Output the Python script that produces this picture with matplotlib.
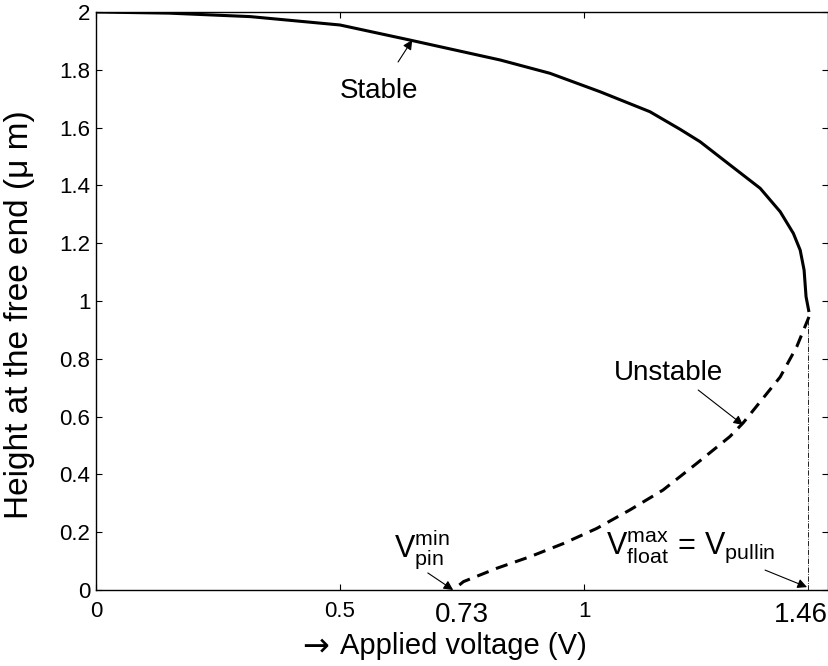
import numpy as np
import matplotlib.pyplot as plt

plt.rcParams['font.family'] = ['Liberation Sans', 'DejaVu Sans']
plt.rcParams['mathtext.fontset'] = 'custom'
plt.rcParams['mathtext.rm'] = 'Liberation Sans'
plt.rcParams['mathtext.it'] = 'Liberation Sans'

# values
stable_v = [0.000, 0.150, 0.316, 0.500, 0.643, 0.828, 0.930, 1.033, 1.135,
            1.197, 1.238, 1.299, 1.361, 1.402, 1.429, 1.443, 1.451, 1.455, 1.461]
stable_h = [2.000, 1.996, 1.984, 1.955, 1.903, 1.834, 1.788, 1.724, 1.655,
            1.594, 1.551, 1.471, 1.390, 1.309, 1.234, 1.176, 1.107, 1.015, 0.962]
unstable_v = [1.461, 1.436, 1.402, 1.326, 1.299, 1.231, 1.162, 1.094, 1.026,
              0.958, 0.889, 0.821, 0.753, 0.732]
unstable_h = [0.945, 0.842, 0.737, 0.578, 0.531, 0.438, 0.346, 0.277, 0.213,
              0.161, 0.115, 0.075, 0.029, 0.000]
v_pin = 0.73
v_pullin = 1.46
xticks = [0, 0.5, 1]
yticks = [0, 0.2, 0.4, 0.6, 0.8, 1, 1.2, 1.4, 1.6, 1.8, 2]

fig = plt.figure(figsize=(8.29, 6.66), dpi=100)
ax = fig.add_axes([0.1158, 0.1141, 0.8830, 0.8679])

ax.plot(stable_v, stable_h, 'k-', lw=2.2, solid_capstyle='butt')
ax.plot(unstable_v, unstable_h, 'k--', lw=2.2, dashes=(4, 2.6))
ax.plot([v_pullin, v_pullin], [0, unstable_h[0]], 'k-.', lw=0.6)

ax.set_xlim(0, 1.5)
ax.set_ylim(0, 2)
ax.set_xticks(xticks)
ax.set_xticklabels(['0', '0.5', '1'])
ax.set_yticks(yticks)
ax.set_yticklabels(['0', '0.2', '0.4', '0.6', '0.8', '1', '1.2', '1.4', '1.6', '1.8', '2'])
ax.tick_params(direction='in', length=4.5, width=0.8, top=True, right=True,
               labelsize=16)
ax.tick_params(axis='x', pad=8)
ax.tick_params(axis='y', pad=4)
for s in ax.spines.values():
    s.set_linewidth(1.0)

ax.set_xlabel('Applied voltage (V)', fontsize=21)
ax.xaxis.set_label_coords(0.502, -0.072)
fig.text(302 / 829, 0.029, '→', fontsize=23, family='DejaVu Sans',
         ha='left', va='center')
ax.set_ylabel('Height at the free end (μ m)', fontsize=24)
ax.yaxis.set_label_coords(-0.083, 0.477)

# big labels for the two special voltages
ax.text(0.75, -0.02, '0.73', fontsize=20, ha='center', va='top',
        transform=ax.get_xaxis_transform(), clip_on=False)
ax.text(1.445, -0.02, '1.46', fontsize=20, ha='center', va='top',
        transform=ax.get_xaxis_transform(), clip_on=False)

arrow = dict(arrowstyle='-|>', color='k', lw=0.8, mutation_scale=14,
             shrinkA=0, shrinkB=0)
ax.annotate('', xy=(0.648, 1.903), xytext=(0.619, 1.827), arrowprops=arrow)
ax.text(0.580, 1.727, 'Stable', fontsize=20, ha='center', va='center')

ax.annotate('', xy=(1.326, 0.571), xytext=(1.234, 0.692), arrowprops=arrow)
ax.text(1.174, 0.752, 'Unstable', fontsize=20, ha='center', va='center')

ax.annotate('', xy=(0.732, 0.0), xytext=(0.680, 0.059), arrowprops=arrow,
            annotation_clip=False)
ax.text(0.667, 0.140, r'$\mathrm{V}_{\mathrm{pin}}^{\mathrm{min}}$', fontsize=22,
        ha='center', va='center')

ax.annotate('', xy=(1.457, 0.01), xytext=(1.371, 0.069), arrowprops=arrow,
            annotation_clip=False)
ax.text(1.219, 0.150,
        r'$\mathrm{V}_{\mathrm{float}}^{\mathrm{max}}\,=\,\mathrm{V}_{\mathrm{pullin}}$',
        fontsize=22, ha='center', va='center')

fig.savefig('out.png', dpi=100)
